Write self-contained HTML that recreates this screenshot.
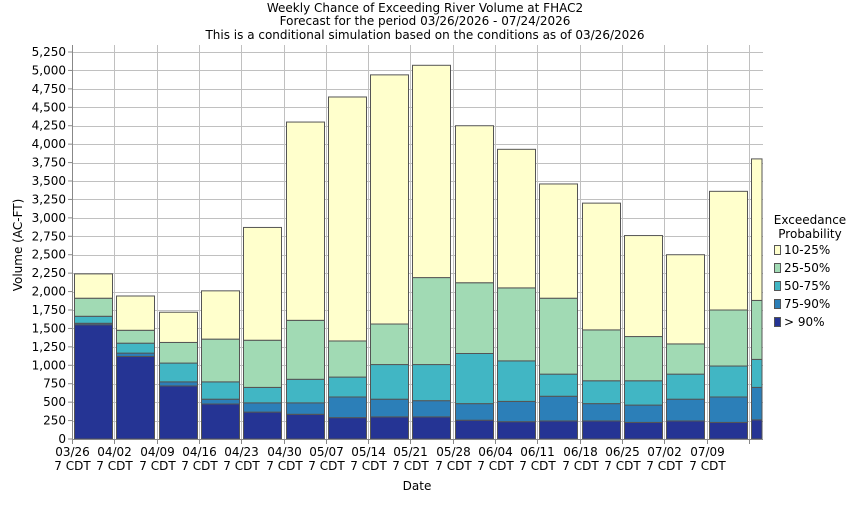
<!DOCTYPE html>
<html><head><meta charset="utf-8"><style>
body{margin:0;background:#fff;}
svg text{font-family:"DejaVu Sans","Liberation Sans",sans-serif;font-size:12px;fill:#000;}
</style></head><body>
<svg width="850" height="500" xmlns="http://www.w3.org/2000/svg">
<text x="425" y="12" text-anchor="middle">Weekly Chance of Exceeding River Volume at FHAC2</text>
<text x="425" y="25" text-anchor="middle">Forecast for the period 03/26/2026 - 07/24/2026</text>
<text x="425" y="39" text-anchor="middle">This is a conditional simulation based on the conditions as of 03/26/2026</text>
<g id="grid" stroke="#c0c0c0" stroke-width="1"></g>
<g id="bars"></g>
<line x1="72.5" y1="45" x2="72.5" y2="440" stroke="#888"/>
<line x1="72" y1="439.5" x2="763" y2="439.5" stroke="#888"/>
<g id="labels"></g>
<text transform="translate(22,245) rotate(-90)" text-anchor="middle">Volume (AC-FT)</text>
<text x="417" y="490" text-anchor="middle">Date</text>
<text x="810" y="224" text-anchor="middle">Exceedance</text>
<text x="810" y="238" text-anchor="middle">Probability</text>
<g stroke="#555" stroke-width="1">
<rect x="774.5" y="245.5" width="6" height="9" fill="#ffffcc"/>
<rect x="774.5" y="263.5" width="6" height="9" fill="#a1dab4"/>
<rect x="774.5" y="281.5" width="6" height="9" fill="#41b6c4"/>
<rect x="774.5" y="299.5" width="6" height="9" fill="#2c7fb8"/>
<rect x="774.5" y="317.5" width="6" height="9" fill="#253494"/>
</g>
<text x="784" y="254">10-25%</text>
<text x="784" y="272">25-50%</text>
<text x="784" y="290">50-75%</text>
<text x="784" y="308">75-90%</text>
<text x="784" y="326">&gt; 90%</text>
</svg>
<script>
var NS="http://www.w3.org/2000/svg";
function el(t,a,p,txt){var e=document.createElementNS(NS,t);for(var k in a)e.setAttribute(k,a[k]);if(txt)e.textContent=txt;p.appendChild(e);return e;}
var Y=function(v){return 439-v*0.07371;};
var g=document.getElementById('grid'),b=document.getElementById('bars'),l=document.getElementById('labels');
for(var v=250;v<=5250;v+=250){var y=Math.round(Y(v))+0.5;el('line',{x1:72,x2:763,y1:y,y2:y},g);}
for(var v=0;v<=5250;v+=250){var y=Y(v);el('line',{x1:68,x2:72,y1:y,y2:y,stroke:'#888'},l);el('text',{x:66,y:y+4,'text-anchor':'end'},l,v.toLocaleString('en-US'));}
var dates=['03/26','04/02','04/09','04/16','04/23','04/30','05/07','05/14','05/21','05/28','06/04','06/11','06/18','06/25','07/02','07/09',''];
for(var i=0;i<17;i++){var x=Math.round(72+42.3*i)+0.5;if(i>0)el('line',{x1:x,x2:x,y1:45,y2:439},g);el('line',{x1:x,x2:x,y1:439,y2:444,stroke:'#888'},l);
if(dates[i]){el('text',{x:x,y:456,'text-anchor':'middle'},l,dates[i]);el('text',{x:x,y:470,'text-anchor':'middle'},l,'7 CDT');}}
var data=[[1550,1570,1665,1910,2240],[1120,1165,1300,1475,1940],[720,775,1030,1310,1720],[475,540,775,1355,2010],[365,490,700,1340,2870],[335,490,810,1610,4300],[290,570,840,1330,4640],[300,540,1010,1560,4940],[300,520,1010,2190,5070],[255,480,1160,2120,4250],[235,510,1060,2050,3930],[245,580,880,1910,3460],[245,480,790,1480,3200],[225,460,790,1390,2760],[245,540,880,1290,2500],[225,570,990,1750,3360],[260,700,1080,1880,3800]];
var cols=['#253494','#2c7fb8','#41b6c4','#a1dab4','#ffffcc'];
for(var i=0;i<17;i++){var x=Math.round(74+42.3*i)+0.5,w=38;if(x+w>762)w=762-x;var lo=0;
for(var k=0;k<5;k++){var hi=data[i][k];el('rect',{x:x,y:Y(hi),width:w,height:Y(lo)-Y(hi),fill:cols[k],stroke:'#555','stroke-width':1},b);lo=hi;}}
</script>
</body></html>
